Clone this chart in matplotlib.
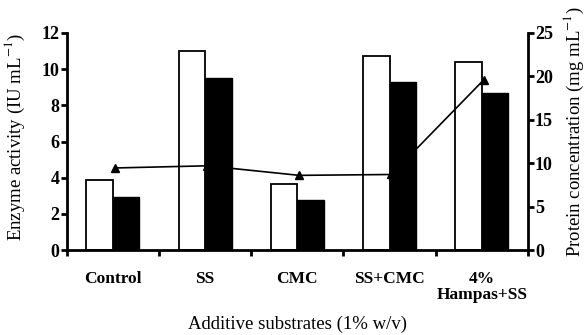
import matplotlib

matplotlib.use("Agg")
import matplotlib.pyplot as plt
from matplotlib.ticker import FixedLocator, NullFormatter

categories = ["Control", "SS", "CMC", "SS+CMC", "4%\nHampas+SS"]
enzyme_white = [3.87, 11.02, 3.65, 10.75, 10.38]
enzyme_black = [2.95, 9.5, 2.78, 9.31, 8.68]
protein = [9.45, 9.7, 8.6, 8.7, 19.6]

plt.rcParams.update(
    {
        "font.family": ["Liberation Serif", "DejaVu Serif"],
        "mathtext.fontset": "stix",
    }
)

fig = plt.figure(figsize=(5.85, 3.35), dpi=100)
ax = fig.add_axes([0.114, 0.2537, 0.7886, 0.6478])
ax2 = ax.twinx()

xs = list(range(len(categories)))
width = 0.287

ax.bar([x - width / 2 for x in xs], enzyme_white, width, facecolor="none",
       edgecolor="black", linewidth=1.3, zorder=1)
ax.bar([x + width / 2 for x in xs], enzyme_black, width, facecolor="black",
       edgecolor="black", linewidth=1.0, zorder=3)

# protein line lives on the right scale, but is drawn on ax so black bars cover it
scale = 12 / 25
ax.plot([x + 0.02 for x in xs], [p * scale for p in protein], color="black",
        linewidth=1.2, marker="^", markersize=6, zorder=2)

ax.set_xlim(-0.5, len(categories) - 0.5)
ax.set_ylim(0, 12)
ax2.set_ylim(0, 25)

ax.set_yticks(range(0, 13, 2))
ax2.set_yticks(range(0, 26, 5))

ax.xaxis.set_major_locator(FixedLocator([x + 0.5 for x in range(-1, len(categories))]))
ax.xaxis.set_major_formatter(NullFormatter())
ax.xaxis.set_minor_locator(FixedLocator(xs))
ax.set_xticklabels(categories, minor=True)
ax.tick_params(axis="x", which="minor", length=0, pad=15)
ax.tick_params(axis="x", which="major", length=4, width=2, direction="out")

for label in ax.get_xticklabels(minor=True):
    label.set_fontweight("bold")
    label.set_fontsize(12.5)
    label.set_linespacing(1.05)

ax.tick_params(axis="y", length=4, width=2, labelsize=13, pad=1)
ax2.tick_params(axis="y", length=4, width=2, labelsize=13, pad=1)
for label in ax.get_yticklabels() + ax2.get_yticklabels():
    label.set_fontweight("bold")

for a in (ax, ax2):
    a.spines["top"].set_visible(False)
    a.spines["left"].set_linewidth(2)
    a.spines["right"].set_linewidth(2)
    a.spines["bottom"].set_linewidth(2)
ax.spines["right"].set_visible(False)
ax2.spines["left"].set_visible(False)
ax2.spines["bottom"].set_visible(False)

ax.set_ylabel("Enzyme activity (IU mL$^{-1}$)", fontsize=13.5)
ax2.set_ylabel("Protein concentration (mg mL$^{-1}$)", fontsize=13.5)
ax.yaxis.set_label_coords(-0.087, 0.52)
ax2.yaxis.set_label_coords(1.074, 0.544)
fig.text(0.508, 0.005, "Additive substrates (1% w/v)", ha="center", va="bottom",
         fontsize=13.5)

fig.savefig("out.png", dpi=100)
